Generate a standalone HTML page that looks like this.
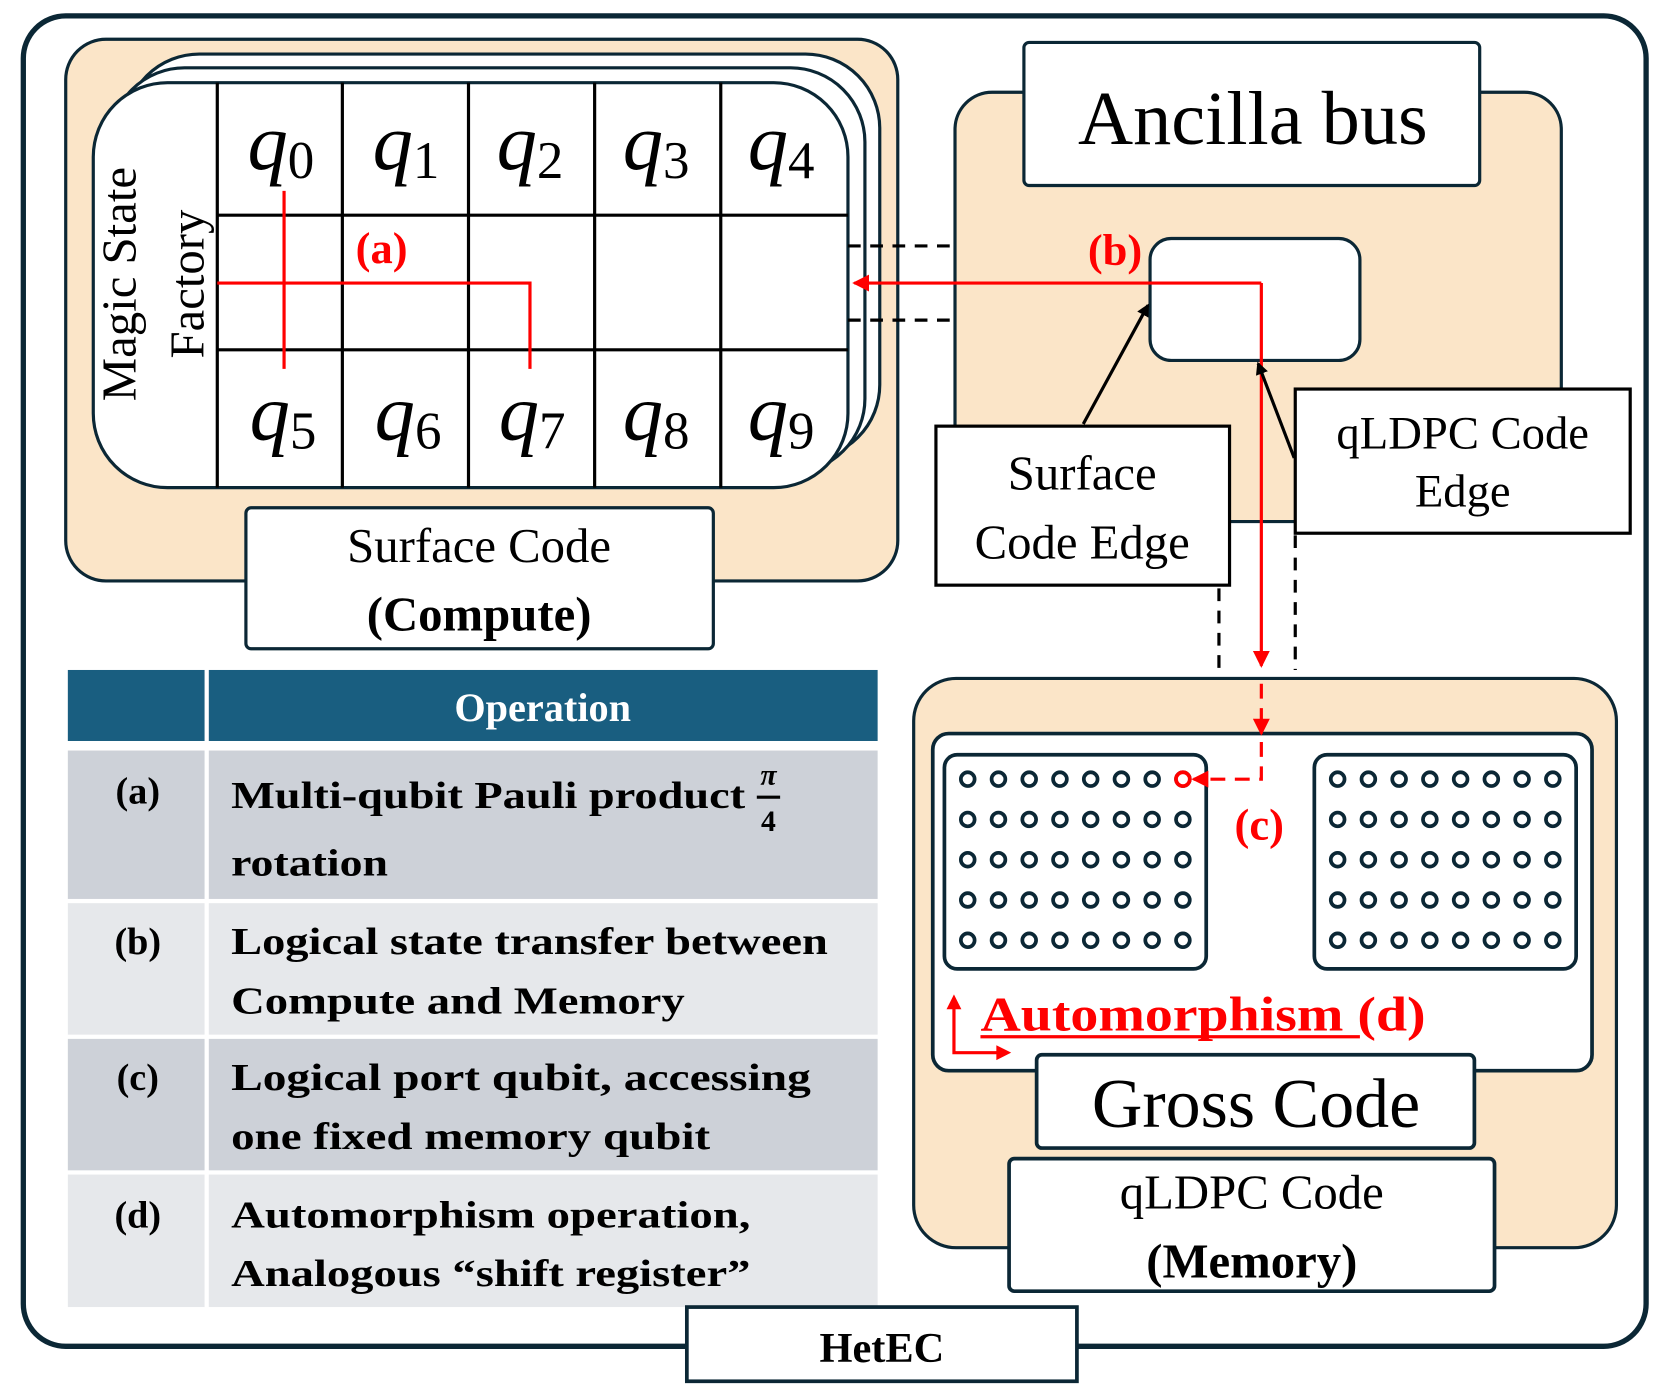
<!DOCTYPE html>
<html><head><meta charset="utf-8"><style>html,body{margin:0;padding:0;background:#fff}svg{display:block}text{font-family:"Liberation Serif",serif}</style></head>
<body>
<svg width="1662" height="1394" viewBox="0 0 1568 1315" preserveAspectRatio="none" xmlns="http://www.w3.org/2000/svg">
<defs>
<marker id="ab" markerWidth="12" markerHeight="12" refX="10" refY="6" orient="auto" markerUnits="userSpaceOnUse"><path d="M0,0 L12,6 L0,12 z" fill="#000"/></marker>
<marker id="ar2" markerWidth="16" markerHeight="16" refX="14" refY="8" orient="auto" markerUnits="userSpaceOnUse"><path d="M0,0 L16,8 L0,16 z" fill="#f00"/></marker>
</defs>
<rect x="22" y="15" width="1531" height="1255" rx="40" fill="#fff" stroke="#0b2735" stroke-width="5"/>
<!-- compute panel -->
<rect x="62" y="37" width="785" height="511" rx="38" fill="#fbe5c8" stroke="#0b2735" stroke-width="3"/>
<rect x="118" y="51" width="712" height="382" rx="70" fill="#fff" stroke="#0b2735" stroke-width="3"/>
<rect x="104" y="64" width="712" height="382" rx="70" fill="#fff" stroke="#0b2735" stroke-width="3"/>
<rect x="88" y="78" width="712" height="382" rx="70" fill="#fff" stroke="#0b2735" stroke-width="3"/>
<g stroke="#000" stroke-width="3">
<line x1="205" y1="78" x2="205" y2="460"/><line x1="323" y1="78" x2="323" y2="460"/><line x1="442" y1="78" x2="442" y2="460"/><line x1="561" y1="78" x2="561" y2="460"/><line x1="680" y1="78" x2="680" y2="460"/>
<line x1="205" y1="203" x2="800" y2="203"/><line x1="205" y1="330" x2="800" y2="330"/>
</g>
<g font-size="76" font-style="italic" text-anchor="middle">
<text x="265" y="160">q<tspan font-style="normal" font-size="50" dy="8">0</tspan></text>
<text x="383" y="160">q<tspan font-style="normal" font-size="50" dy="8">1</tspan></text>
<text x="500" y="160">q<tspan font-style="normal" font-size="50" dy="8">2</tspan></text>
<text x="619" y="160">q<tspan font-style="normal" font-size="50" dy="8">3</tspan></text>
<text x="737" y="160">q<tspan font-style="normal" font-size="50" dy="8">4</tspan></text>
<text x="267" y="415">q<tspan font-style="normal" font-size="50" dy="8">5</tspan></text>
<text x="385" y="415">q<tspan font-style="normal" font-size="50" dy="8">6</tspan></text>
<text x="502" y="415">q<tspan font-style="normal" font-size="50" dy="8">7</tspan></text>
<text x="619" y="415">q<tspan font-style="normal" font-size="50" dy="8">8</tspan></text>
<text x="737" y="415">q<tspan font-style="normal" font-size="50" dy="8">9</tspan></text>
</g>
<text transform="translate(128,268) rotate(-90)" font-size="46" text-anchor="middle">Magic State</text>
<text transform="translate(192,268) rotate(-90)" font-size="46" text-anchor="middle">Factory</text>
<g stroke="#f00" stroke-width="3" fill="none">
<line x1="268" y1="180" x2="268" y2="348"/>
<polyline points="205,267 500,267 500,348"/>
</g>
<text x="360" y="248" font-size="42" font-weight="bold" fill="#f00" text-anchor="middle">(a)</text>
<g stroke="#000" stroke-width="3" stroke-dasharray="12,9">
<line x1="800" y1="232" x2="900" y2="232"/><line x1="800" y1="302" x2="900" y2="302"/>
<line x1="1150" y1="555" x2="1150" y2="632"/><line x1="1222" y1="505" x2="1222" y2="632"/>
</g>
<rect x="232" y="479" width="441" height="133" rx="5" fill="#fff" stroke="#0b2735" stroke-width="3"/>
<text x="452" y="530" font-size="46" text-anchor="middle">Surface Code</text>
<text x="452" y="595" font-size="46" font-weight="bold" text-anchor="middle">(Compute)</text>
<!-- ancilla -->
<rect x="901" y="87" width="572" height="405" rx="35" fill="#fbe5c8" stroke="#0b2735" stroke-width="3"/>
<rect x="966" y="40" width="430" height="135" rx="5" fill="#fff" stroke="#0b2735" stroke-width="3"/>
<text x="1182" y="136" font-size="72" text-anchor="middle">Ancilla bus</text>
<rect x="1085" y="225" width="198" height="115" rx="20" fill="#fff" stroke="#0b2735" stroke-width="3"/>
<line x1="1190" y1="267" x2="806" y2="267" stroke="#f00" stroke-width="3" marker-end="url(#ar2)"/>
<line x1="1190" y1="267" x2="1190" y2="628" stroke="#f00" stroke-width="3" marker-end="url(#ar2)"/>
<text x="1052" y="250" font-size="42" font-weight="bold" fill="#f00" text-anchor="middle">(b)</text>
<rect x="883" y="402" width="277" height="150" fill="#fff" stroke="#000" stroke-width="3"/>
<text x="1021" y="462" font-size="46" text-anchor="middle">Surface</text>
<text x="1021" y="527" font-size="46" text-anchor="middle">Code Edge</text>
<line x1="1022" y1="400" x2="1083" y2="288" stroke="#000" stroke-width="3" marker-end="url(#ab)"/>
<rect x="1222" y="367" width="316" height="136" fill="#fff" stroke="#000" stroke-width="3"/>
<text x="1380" y="423" font-size="44" text-anchor="middle">qLDPC Code</text>
<text x="1380" y="478" font-size="44" text-anchor="middle">Edge</text>
<line x1="1221" y1="432" x2="1187" y2="343" stroke="#000" stroke-width="3" marker-end="url(#ab)"/>
<!-- memory -->
<rect x="862" y="640" width="663" height="537" rx="40" fill="#fbe5c8" stroke="#0b2735" stroke-width="3"/>
<rect x="880" y="692" width="622" height="318" rx="15" fill="#fff" stroke="#0b2735" stroke-width="3.5"/>
<rect x="891" y="712" width="247" height="202" rx="12" fill="#fff" stroke="#0b2735" stroke-width="3.5"/>
<rect x="1240" y="712" width="247" height="202" rx="12" fill="#fff" stroke="#0b2735" stroke-width="3.5"/>
<g fill="none" stroke="#0b2735" stroke-width="3.5">
<g id="row"><circle cx="913" cy="735" r="6.5"/><circle cx="942" cy="735" r="6.5"/><circle cx="971" cy="735" r="6.5"/><circle cx="1000" cy="735" r="6.5"/><circle cx="1029" cy="735" r="6.5"/><circle cx="1058" cy="735" r="6.5"/><circle cx="1087" cy="735" r="6.5"/><circle cx="1116" cy="735" r="6.5"/></g>
<use href="#row" y="38"/><use href="#row" y="76"/><use href="#row" y="114"/><use href="#row" y="152"/>
<use href="#row" x="349"/><use href="#row" x="349" y="38"/><use href="#row" x="349" y="76"/><use href="#row" x="349" y="114"/><use href="#row" x="349" y="152"/>
</g>
<circle cx="1116" cy="735" r="6.5" fill="#fff" stroke="#f00" stroke-width="3.5"/>
<line x1="1190" y1="645" x2="1190" y2="692" stroke="#f00" stroke-width="3" stroke-dasharray="14,9" marker-end="url(#ar2)"/>
<polyline points="1190,700 1190,735 1126,735" stroke="#f00" stroke-width="3" fill="none" stroke-dasharray="14,9" marker-end="url(#ar2)"/>
<text x="1188" y="792" font-size="42" font-weight="bold" fill="#f00" text-anchor="middle">(c)</text>
<text x="925" y="972" font-size="46" font-weight="bold" fill="#f00" textLength="420" lengthAdjust="spacingAndGlyphs">Automorphism (d)</text>
<line x1="925" y1="978" x2="1283" y2="978" stroke="#f00" stroke-width="3"/>
<polyline points="900,948 900,993 945,993" stroke="#f00" stroke-width="3" fill="none"/>
<path d="M893,952 L900,938 L907,952 z" fill="#f00"/><path d="M940,986 L954,993 L940,1000 z" fill="#f00"/>
<rect x="978" y="995" width="413" height="88" rx="5" fill="#fff" stroke="#0b2735" stroke-width="3.5"/>
<text x="1185" y="1063" font-size="66" text-anchor="middle">Gross Code</text>
<rect x="952" y="1093" width="458" height="125" rx="5" fill="#fff" stroke="#0b2735" stroke-width="3.5"/>
<text x="1181" y="1140" font-size="46" text-anchor="middle">qLDPC Code</text>
<text x="1181" y="1205" font-size="46" font-weight="bold" text-anchor="middle">(Memory)</text>
<!-- table -->
<rect x="64" y="632" width="129" height="67" fill="#195e80"/><rect x="197" y="632" width="631" height="67" fill="#195e80"/>
<text x="512" y="680" font-size="38" font-weight="bold" fill="#fff" text-anchor="middle">Operation</text>
<rect x="64" y="708" width="129" height="140" fill="#cdd1d8"/><rect x="197" y="708" width="631" height="140" fill="#cdd1d8"/>
<rect x="64" y="852" width="129" height="124" fill="#e6e8eb"/><rect x="197" y="852" width="631" height="124" fill="#e6e8eb"/>
<rect x="64" y="980" width="129" height="124" fill="#cdd1d8"/><rect x="197" y="980" width="631" height="124" fill="#cdd1d8"/>
<rect x="64" y="1108" width="129" height="125" fill="#e6e8eb"/><rect x="197" y="1108" width="631" height="125" fill="#e6e8eb"/>
<g font-size="36" font-weight="bold">
<text x="130" y="758" text-anchor="middle">(a)</text>
<text x="130" y="900" text-anchor="middle">(b)</text>
<text x="130" y="1028" text-anchor="middle">(c)</text>
<text x="130" y="1158" text-anchor="middle">(d)</text>
<text x="218" y="762" textLength="485" lengthAdjust="spacingAndGlyphs">Multi-qubit Pauli product</text>
<text x="725" y="740" font-size="28" font-style="italic" text-anchor="middle">π</text>
<line x1="714" y1="752" x2="736" y2="752" stroke="#000" stroke-width="3"/>
<text x="725" y="784" font-size="28" text-anchor="middle">4</text>
<text x="218" y="826" textLength="148" lengthAdjust="spacingAndGlyphs">rotation</text>
<text x="218" y="900" textLength="563" lengthAdjust="spacingAndGlyphs">Logical state transfer between</text>
<text x="218" y="956" textLength="428" lengthAdjust="spacingAndGlyphs">Compute and Memory</text>
<text x="218" y="1028" textLength="547" lengthAdjust="spacingAndGlyphs">Logical port qubit, accessing</text>
<text x="218" y="1084" textLength="452" lengthAdjust="spacingAndGlyphs">one fixed memory qubit</text>
<text x="218" y="1158" textLength="490" lengthAdjust="spacingAndGlyphs">Automorphism operation,</text>
<text x="218" y="1213" textLength="490" lengthAdjust="spacingAndGlyphs">Analogous “shift register”</text>
</g>
<rect x="648" y="1233" width="368" height="70" fill="#fff" stroke="#0b2735" stroke-width="3.5"/>
<text x="832" y="1285" font-size="40" font-weight="bold" text-anchor="middle">HetEC</text>
</svg>
</body></html>
